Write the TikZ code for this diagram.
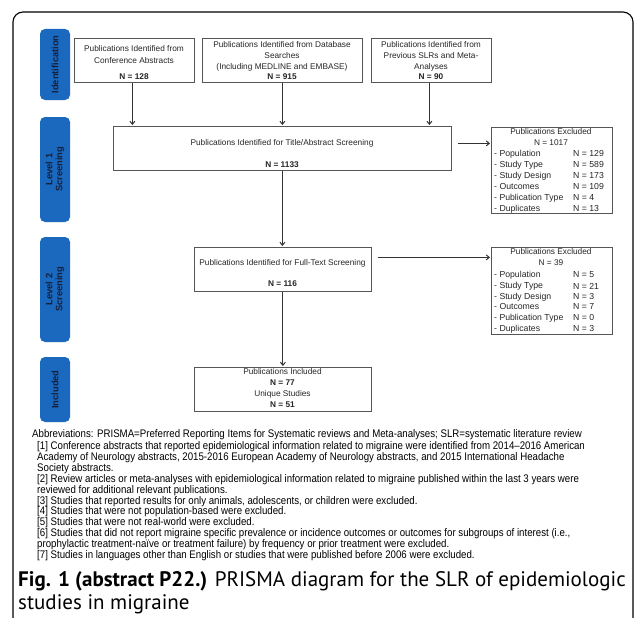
\documentclass[tikz,border=0pt]{standalone}
\usepackage{fontspec}
\setmainfont{Liberation Sans}
\newfontfamily\notefont[FakeStretch=0.88]{Liberation Sans}
\newfontfamily\capfont{PT Sans}
\usetikzlibrary{arrows.meta,calc}
\definecolor{tabblue}{HTML}{1B68BF}
\definecolor{tabtext}{HTML}{16203A}
\definecolor{boxgray}{HTML}{555555}
\definecolor{arrgray}{HTML}{333333}
\tikzset{
  frame/.style={draw=black, line width=1.1pt, rounded corners=10pt},
  tab/.style={fill=tabblue, rounded corners=5pt, rotate=90, minimum height=30pt, inner sep=0pt,
    text=tabtext, font=\bfseries\fontsize{9.3}{10}\selectfont, align=center},
  box/.style={draw=boxgray, line width=0.8pt, fill=white, anchor=north west, inner sep=0pt},
  arr/.style={draw=arrgray, line width=1pt, -{Straight Barb[length=3pt,width=5pt]}, shorten >=1pt},
  txt/.style={inner sep=0pt, font=\fontsize{8.3}{9}\selectfont, text=black!85},
  ntxt/.style={txt, font=\bfseries\fontsize{8.3}{9}\selectfont},
  lft/.style={txt, anchor=west, font=\fontsize{8.7}{9}\selectfont},
  note/.style={inner sep=0pt, anchor=west, font=\notefont\fontsize{11}{11}\selectfont},
  captext/.style={inner sep=0pt, anchor=west, font=\capfont\fontsize{21}{23}\selectfont}
}
\begin{document}
\begin{tikzpicture}[x=1pt, y=-1pt]
\useasboundingbox (0,0) rectangle (637,618);
% outer frame
\draw[frame] (13,640) -- (13,12) -- (633,12) -- (633,640);
% tabs
\node[tab, minimum width=71pt] (t1) at (55,64.5) {Identification};
\node[tab, minimum width=105pt] (t2) at (55,169.5) {Level 1\\Screening};
\node[tab, minimum width=105pt] (t3) at (55,289.5) {Level 2\\Screening};
\node[tab, minimum width=65pt] (t4) at (55,389.5) {Included};
% boxes
\node[box, minimum width=120pt, minimum height=44pt] (A) at (74,38) {};
\node[box, minimum width=160pt, minimum height=44pt] (B) at (202,38) {};
\node[box, minimum width=120pt, minimum height=44pt] (C) at (371,38) {};
\node[box, minimum width=338pt, minimum height=44pt] (D) at (113,126) {};
\node[box, minimum width=121pt, minimum height=86pt] (E) at (491,127) {};
\node[box, minimum width=177pt, minimum height=44pt] (F) at (194,247) {};
\node[box, minimum width=121pt, minimum height=87pt] (G) at (491,247) {};
\node[box, minimum width=177pt, minimum height=44pt] (H) at (194,367) {};
% box texts
\node[txt] (a1) at (134,49) {Publications Identified from};
\node[txt] (a2) at (134,61) {Conference Abstracts};
\node[ntxt] (a3) at (134,77) {N = 128};
\node[txt] (b1) at (282,45) {Publications Identified from Database};
\node[txt] (b2) at (282,56) {Searches};
\node[txt] (b3) at (282,67) {(Including MEDLINE and EMBASE)};
\node[ntxt] (b4) at (282,77) {N = 915};
\node[txt] (c1) at (431,45) {Publications Identified from};
\node[txt] (c2) at (431,56) {Previous SLRs and Meta-};
\node[txt] (c3) at (431,67) {Analyses};
\node[ntxt] (c4) at (431,77) {N = 90};
\node[txt] (d1) at (282,143) {Publications Identified for Title/Abstract Screening};
\node[ntxt] (d2) at (282,165) {N = 1133};
\node[txt] (f1) at (282.5,263) {Publications Identified for Full-Text Screening};
\node[ntxt] (f2) at (282.5,284) {N = 116};
\node[txt] (h1) at (282.5,372) {Publications Included};
\node[ntxt] (h2) at (282.5,383) {N = 77};
\node[txt] (h3) at (282.5,394) {Unique Studies};
\node[ntxt] (h4) at (282.5,405) {N = 51};
% exclusion box E
\node[txt] (e0) at (551,132) {Publications Excluded};
\node[txt] (e1) at (551,143) {N = 1017};
\node[lft] (e2) at (494,154) {- Population};      \node[lft] (e2n) at (573,154) {N = 129};
\node[lft] (e3) at (494,165) {- Study Type};      \node[lft] (e3n) at (573,165) {N = 589};
\node[lft] (e4) at (494,176) {- Study Design};    \node[lft] (e4n) at (573,176) {N = 173};
\node[lft] (e5) at (494,187) {- Outcomes};        \node[lft] (e5n) at (573,187) {N = 109};
\node[lft] (e6) at (494,198) {- Publication Type};\node[lft] (e6n) at (573,198) {N = 4};
\node[lft] (e7) at (494,209) {- Duplicates};      \node[lft] (e7n) at (573,209) {N = 13};
% exclusion box G
\node[txt] (g0) at (551,252) {Publications Excluded};
\node[txt] (g1) at (551,263) {N = 39};
\node[lft] (g2) at (494,275) {- Population};      \node[lft] (g2n) at (573,275) {N = 5};
\node[lft] (g3) at (494,286) {- Study Type};      \node[lft] (g3n) at (573,286) {N = 21};
\node[lft] (g4) at (494,297) {- Study Design};    \node[lft] (g4n) at (573,297) {N = 3};
\node[lft] (g5) at (494,307) {- Outcomes};        \node[lft] (g5n) at (573,307) {N = 7};
\node[lft] (g6) at (494,318) {- Publication Type};\node[lft] (g6n) at (573,318) {N = 0};
\node[lft] (g7) at (494,329) {- Duplicates};      \node[lft] (g7n) at (573,329) {N = 3};
% arrows
\draw[arr] ([xshift=-2pt]A.south) -- ([xshift=-2pt]A.south |- D.north);
\draw[arr] (B.south) -- (B.south |- D.north);
\draw[arr] ([xshift=-2pt]C.south) -- ([xshift=-2pt]C.south |- D.north);
\draw[arr] (D.south) -- (D.south |- F.north);
\draw[arr] (F.south) -- (F.south |- H.north);
\coordinate (dx) at ([xshift=6pt,yshift=5pt]D.east);
\draw[arr] (dx) -- (dx -| E.west);
\coordinate (fx) at ([xshift=6pt,yshift=12pt]F.east);
\draw[arr] (fx) -- (fx -| G.west);
% footnotes
\node[note] (n0) at (32,435) {Abbreviations: PRISMA=Preferred Reporting Items for Systematic reviews and Meta-analyses; SLR=systematic literature review};
\node[note] (n1) at (37,447) {[1] Conference abstracts that reported epidemiological information related to migraine were identified from 2014–2016 American};
\node[note] (n2) at (37,458) {Academy of Neurology abstracts, 2015-2016 European Academy of Neurology abstracts, and 2015 International Headache};
\node[note] (n3) at (37,469) {Society abstracts.};
\node[note] (n4) at (37,480) {[2] Review articles or meta-analyses with epidemiological information related to migraine published within the last 3 years were};
\node[note] (n5) at (37,491) {reviewed for additional relevant publications.};
\node[note] (n6) at (37,502) {[3] Studies that reported results for only animals, adolescents, or children were excluded.};
\node[note] (n7) at (37,512) {[4] Studies that were not population-based were excluded.};
\node[note] (n8) at (37,523) {[5] Studies that were not real-world were excluded.};
\node[note] (n9) at (37,534) {[6] Studies that did not report migraine specific prevalence or incidence outcomes or outcomes for subgroups of interest (i.e.,};
\node[note] (n10) at (37,545) {prophylactic treatment-naïve or treatment failure) by frequency or prior treatment were excluded.};
\node[note] (n11) at (37,556) {[7] Studies in languages other than English or studies that were published before 2006 were excluded.};
% caption
\node[captext] (cap1) at (18,581) {\textbf{Fig. 1 (abstract P22.)} PRISMA diagram for the SLR of epidemiologic};
\node[captext] (cap2) at (18,604) {studies in migraine};
\end{tikzpicture}
\end{document}
